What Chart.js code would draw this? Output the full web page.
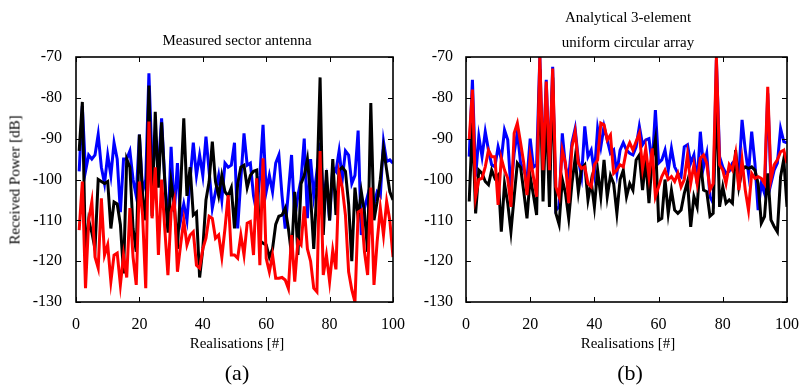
<!DOCTYPE html>
<html>
<head>
<meta charset="utf-8">
<script src="https://cdn.jsdelivr.net/npm/chart.js@4.4.0/dist/chart.umd.min.js"></script>
<style>
  html, body { margin: 0; padding: 0; background: #fff; }
  #wrap { position: relative; width: 804px; height: 387px; overflow: hidden;
          font-family: "Liberation Serif", "Times New Roman", serif; color: #000; }
  .box { position: absolute; top: 0; }
  .lbl { position: absolute; white-space: nowrap; transform: translate(-50%, -50%); font-size: 15px; }
  .big { font-size: 22px; }
</style>
</head>
<body>
<div id="wrap">
  <canvas id="chartA" class="box" style="left:0" width="410" height="387"></canvas>
  <canvas id="chartB" class="box" style="left:410px" width="394" height="387"></canvas>

  <div class="lbl" style="left:237px;top:40px">Measured sector antenna</div>
  <div class="lbl" style="left:628px;top:17px">Analytical 3-element</div>
  <div class="lbl" style="left:628px;top:42px">uniform circular array</div>
  <div class="lbl" style="left:15px;top:180px;transform:translate(-50%,-50%) rotate(-90deg)">Received Power [dB]</div>
  <div class="lbl" style="left:237px;top:343px">Realisations [#]</div>
  <div class="lbl" style="left:628px;top:343px">Realisations [#]</div>
  <div class="lbl big" style="left:237px;top:373px">(a)</div>
  <div class="lbl big" style="left:630px;top:373px">(b)</div>
</div>

<script>
/* ---- data: received power [dB] per realisation 1..100 ---- */

// (a) measured sector antenna
const measuredBlue = [
  -98, -82, -98, -94, -95, -94, -89, -97, -101, -94,
  -99, -91, -95, -108, -95, -95, -93, -100, -104, -89,
  -103, -100, -74, -96, -92, -97, -85, -100, -112, -92,
  -108, -96, -110, -106, -110, -100, -91, -99, -94, -99,
  -89.5, -98, -107, -103, -99, -105, -96, -97, -96.5, -91,
  -112, -100, -88.7, -96.5, -96, -104, -108, -99, -86.6, -103,
  -99, -103, -96, -94, -104, -112, -103, -94, -109.5, -104,
  -100, -90, -109.5, -95, -104, -98, -91, -104.5, -100, -110,
  -97, -98, -93, -100, -93, -94, -101, -99, -88, -113.6,
  -107, -104, -111, -106, -103, -104, -90.7, -95.6, -95.2, -96
];
const measuredBlack = [
  -93, -81, -118.5, -110, -113, -117, -100, -100.5, -101, -100.5,
  -112, -105.5, -106, -111, -123, -95, -97, -112, -117.7, -89,
  -104, -110, -77, -109, -83.4, -102, -86, -100.5, -113, -100.5,
  -106, -117, -102, -85, -104, -97, -108.7, -108, -124, -117,
  -105, -100.5, -90.7, -100.5, -104, -99, -103, -104, -102, -112,
  -101, -97, -96.5, -102, -99, -98, -97.7, -115, -115.6, -116,
  -119, -117, -111, -109, -108.7, -107, -112, -118.5, -103, -118.5,
  -101, -99, -95, -104, -117, -102, -75, -113.6, -97.7, -110,
  -95, -108.7, -97.7, -97, -98, -106, -120, -102, -109.5, -103,
  -108, -117.7, -81.3, -110, -105.4, -100, -92.4, -97.7, -103, -105
];
const measuredRed = [
  -112.4, -100.5, -126.6, -110, -105.4, -119, -121.7, -104.6, -118.5, -116,
  -125, -118.5, -118, -125.8, -118.5, -124, -107, -119, -125.8, -100.5,
  -108.7, -126.6, -85.8, -109.5, -97, -118.5, -100, -112, -123.4, -108,
  -105, -122.6, -116, -110, -116, -113.6, -112.8, -121, -121.7, -117,
  -114.4, -109, -109.5, -114.4, -113.6, -119, -112, -103.8, -118.5, -118.5,
  -119.3, -113.6, -118.5, -110.7, -110.3, -118.5, -99.7, -121, -94.8, -119.3,
  -122.6, -118.5, -124.2, -124.2, -124, -124.6, -126.7, -113.6, -125, -115,
  -116, -106.6, -117, -120, -126.6, -127.5, -93, -123.4, -118.5, -125,
  -117.3, -122, -98.5, -102, -108.7, -122.6, -127, -130, -108, -107.5,
  -117.7, -123.4, -102, -125.8, -115.2, -107, -113.6, -105.4, -110, -119
];

// (b) analytical 3-element uniform circular array
const ucaBlue = [
  -94.4, -75.6, -99.3, -89.5, -94.4, -88.3, -92.8, -96.4, -96.9, -92,
  -95, -87.9, -90.3, -102.6, -93.6, -88.3, -96, -97.7, -100, -90,
  -97, -96.4, -70, -97, -75.6, -97.7, -72.4, -107.5, -106.7, -88.7,
  -97, -99.3, -91, -87.5, -95.2, -99.3, -87, -94.4, -92.8, -98.5,
  -87.5, -92, -87, -90.3, -93.6, -92.8, -98.5, -92.8, -91, -92.8,
  -93.6, -94, -92, -87, -91.5, -90.3, -90, -96.4, -83, -96,
  -95.2, -92.8, -97.7, -92.4, -96.9, -98.5, -99.3, -92, -91.5, -96,
  -94, -101, -88.3, -97, -93.6, -104.2, -105.8, -70.7, -94.4, -97,
  -98.5, -98, -96, -95.2, -98.9, -85.4, -92.8, -98.5, -88.3, -96,
  -107.5, -101, -103.4, -78.9, -101, -97.7, -96, -87.5, -90.7, -91
];
const ucaBlack = [
  -105.4, -86.2, -108.3, -97.7, -98.5, -100.5, -101.3, -97.7, -99.7, -98.9,
  -112.8, -101, -105.8, -112.8, -104.2, -96, -97, -103, -109.5, -99.3,
  -103.8, -108.7, -73, -105.4, -82, -106.7, -75, -108.3, -111, -100,
  -103.4, -109.5, -101, -94.8, -103, -97.3, -96.4, -105, -100.5, -106.7,
  -97.7, -104.2, -95.2, -104.2, -99, -101, -108.3, -100, -97.7, -104.2,
  -101, -102.6, -95.2, -94, -102.6, -95.2, -105.8, -95, -90.3, -110,
  -109.5, -100, -108.3, -102.6, -107.5, -108.3, -107.5, -103.4, -100.5, -111.6,
  -104.2, -106.7, -95.2, -102.6, -103, -109, -108.3, -78.9, -106.7, -101.8,
  -105.8, -105, -105.8, -92.8, -101.8, -97.7, -96.9, -97.3, -96.9, -97.7,
  -101, -110.7, -109.1, -98.5, -109.9, -111.5, -112.8, -99.3, -95, -106.7
];
const ucaRed = [
  -90.3, -78, -104.2, -100, -99.7, -96.9, -92.8, -94.4, -94.4, -106.2,
  -94.8, -97.7, -99.7, -106.7, -88.7, -86.2, -91, -96, -103.8, -94.4,
  -99.3, -104.2, -70, -97.7, -76, -97.7, -72.8, -101.8, -104.2, -92.8,
  -96, -105.8, -92, -88.3, -96, -97.3, -96.9, -101, -101.8, -96.4,
  -95.2, -86.2, -86.6, -90.3, -89.1, -98.5, -97.7, -96.4, -96.9, -92.8,
  -91, -92.8, -90.7, -88.7, -97.3, -92.4, -99.3, -92.4, -104.2, -101.8,
  -99.3, -97.7, -100, -99.3, -100.5, -98.5, -101.8, -100, -94, -101,
  -96.4, -101, -94.8, -94, -96, -102.6, -101, -70, -96.4, -97.7,
  -101, -96.4, -97.7, -93.6, -102.6, -95.2, -102.6, -107.5, -98.5, -99.7,
  -99.3, -99.7, -101, -77.3, -100, -96.4, -95.2, -93.2, -92.8, -96
];

const xTicks = [0, 20, 40, 60, 80, 100];
const yTicks = [-130, -120, -110, -100, -90, -80, -70];

/* ---- helpers ---- */

const FONT = "'Liberation Serif', 'Times New Roman', serif";

function toPoints(values) {
  return values.map((v, i) => ({ x: i + 1, y: v }));
}

// box around the axes + short inward ticks on all four sides (matlab style)
const frameTicks = {
  id: "frameTicks",
  afterDatasetsDraw(chart) {
    const { ctx, chartArea: a, scales } = chart;
    const len = 5;
    ctx.save();
    ctx.strokeStyle = "#000";
    ctx.lineWidth = 1.6;
    ctx.strokeRect(a.left, a.top, a.right - a.left, a.bottom - a.top);
    ctx.lineWidth = 1;
    ctx.beginPath();
    xTicks.forEach((t) => {
      const px = Math.round(scales.x.getPixelForValue(t)) + 0.5;
      ctx.moveTo(px, a.bottom);
      ctx.lineTo(px, a.bottom - len);
      ctx.moveTo(px, a.top);
      ctx.lineTo(px, a.top + len);
    });
    yTicks.forEach((t) => {
      const py = Math.round(scales.y.getPixelForValue(t)) + 0.5;
      ctx.moveTo(a.left, py);
      ctx.lineTo(a.left + len, py);
      ctx.moveTo(a.right, py);
      ctx.lineTo(a.right - len, py);
    });
    ctx.stroke();
    ctx.restore();
  },
};

function makeChart(id, blue, black, red, yAxisWidth, rightPad, yPad) {
  const ds = (label, data, color) => ({
    label: label,
    data: toPoints(data),
    borderColor: color,
    borderWidth: 3,
    pointRadius: 0,
    tension: 0,
    fill: false,
    clip: 0,
  });

  return new Chart(document.getElementById(id), {
    type: "line",
    data: {
      // first dataset is drawn on top, so red first
      datasets: [ds("red", red, "#ff0000"), ds("black", black, "#000000"), ds("blue", blue, "#0000ff")],
    },
    options: {
      responsive: false,
      animation: false,
      devicePixelRatio: 1,
      layout: { padding: { top: 57, right: rightPad, left: 0, bottom: 0 } },
      plugins: { legend: { display: false }, tooltip: { enabled: false } },
      scales: {
        x: {
          type: "linear",
          min: 0,
          max: 100,
          afterFit: (s) => { s.height = 85; },
          afterBuildTicks: (s) => { s.ticks = xTicks.map((v) => ({ value: v })); },
          grid: { display: false },
          border: { display: false },
          ticks: { color: "#000", font: { family: FONT, size: 16 }, padding: 5, maxRotation: 0, autoSkip: false },
        },
        y: {
          type: "linear",
          min: -130,
          max: -70,
          afterFit: (s) => { s.width = yAxisWidth; },
          afterBuildTicks: (s) => { s.ticks = yTicks.map((v) => ({ value: v })); },
          grid: { display: false },
          border: { display: false },
          ticks: { color: "#000", font: { family: FONT, size: 16 }, padding: yPad, autoSkip: false },
        },
      },
    },
    plugins: [frameTicks],
  });
}

makeChart("chartA", measuredBlue, measuredBlack, measuredRed, 76, 11, 6);
makeChart("chartB", ucaBlue, ucaBlack, ucaRed, 56, 13, 5);
</script>
</body>
</html>
